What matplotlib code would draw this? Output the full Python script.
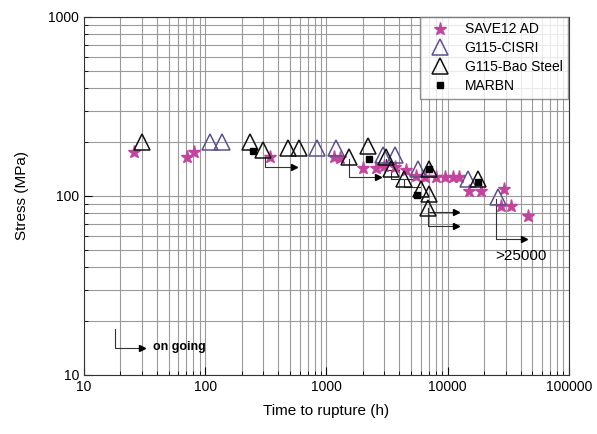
import numpy as np
import matplotlib.pyplot as plt

plt.rcParams['font.family'] = ['Liberation Sans', 'DejaVu Sans']

# SAVE12 AD (stars)
save_t = [26, 71, 81, 340, 1150, 1300, 2000, 2540, 3000, 3700, 4500, 5500, 6500,
          8000, 9500, 11000, 12500, 14900, 18700, 29000, 27400, 33000, 46000]
save_s = [177, 166, 175, 164, 165, 163, 144, 144, 147, 145, 140, 130, 128,
          128, 128, 127, 127, 106, 106, 109, 88, 88, 77]

# G115-CISRI (purple open triangles)
cisri_t = [110, 138, 843, 1190, 2900, 3700, 5650, 14600, 25900]
cisri_s = [200, 200, 186, 186, 170, 170, 142, 124, 99]

# G115-Bao Steel (black open triangles)
bao_t = [30, 235, 301, 485, 588, 1520, 2180, 3080, 3380, 4330, 5980, 6970, 6840, 17700, 7000]
bao_s = [201, 200, 181, 186, 186, 164, 189, 164, 142, 124, 109, 102, 86, 124, 142]

# MARBN (black squares)
marbn_t = [250, 2260, 7000, 5600, 17700]
marbn_s = [179, 160, 141, 101, 120]

# ongoing tests: start time, stress at marker, stress at arrow, arrow end time
arr_t0 = [310, 1520, 6840, 6840, 24900]
arr_s0 = [170, 160, 86, 86, 96]
arr_s1 = [145, 127, 81, 67.6, 57.3]
arr_t1 = [540, 2640, 11600, 11600, 42500]

# plain step lines in the crowded cluster
step_t0 = [3080, 3380, 4330]
step_s0 = [160, 140, 122]
step_s1 = [140, 124, 112]
step_t1 = [4000, 5200, 5900]

fig = plt.figure(figsize=(5.97, 4.34), dpi=100)
ax = fig.add_axes([0.1407, 0.136, 0.8123, 0.825])

ax.set_xscale('log')
ax.set_yscale('log')
ax.set_xlim(10, 100000)
ax.set_ylim(10, 1000)

ax.grid(True, which='both', color='#9a9a9a', linewidth=0.8)
ax.set_axisbelow(True)

for i in range(len(arr_t0)):
    ax.plot([arr_t0[i], arr_t0[i], arr_t1[i]], [arr_s0[i], arr_s1[i], arr_s1[i]],
            color='#333333', lw=0.8, zorder=2)
    ax.plot(arr_t1[i], arr_s1[i], marker='>', ms=4, color='black', zorder=2)
for i in range(len(step_t0)):
    ax.plot([step_t0[i], step_t0[i], step_t1[i]], [step_s0[i], step_s1[i], step_s1[i]],
            color='#333333', lw=0.8, zorder=2)

ax.plot(save_t, save_s, ls='none', marker='*', ms=9.5, color='#c2449c',
        markeredgecolor='#c2449c', label='SAVE12 AD', zorder=3)
ax.plot(cisri_t, cisri_s, ls='none', marker='^', ms=11, markerfacecolor='none',
        markeredgecolor='#5d4f8e', markeredgewidth=1.1, label='G115-CISRI', zorder=4)
ax.plot(bao_t, bao_s, ls='none', marker='^', ms=11, markerfacecolor='none',
        markeredgecolor='#111111', markeredgewidth=1.1, label='G115-Bao Steel', zorder=4)
ax.plot(marbn_t, marbn_s, ls='none', marker='s', ms=4.5, color='black',
        label='MARBN', zorder=5)

# "on going" key
ax.plot([18, 18, 30], [18.0, 14.1, 14.1], color='#333333', lw=0.8)
ax.plot(30, 14.1, marker='>', ms=4, color='black')
ax.text(37, 14.3, 'on going', fontsize=9, fontweight='bold', va='center')

ax.text(40000, 46, '>25000', fontsize=11, ha='center', va='center')

ax.set_xlabel('Time to rupture (h)', fontsize=11, labelpad=7)
ax.set_ylabel('Stress (MPa)', fontsize=11, labelpad=14)
ax.set_xticks([10, 100, 1000, 10000, 100000])
ax.set_xticklabels(['10', '100', '1000', '10000', '100000'])
ax.set_yticks([10, 100, 1000])
ax.set_yticklabels(['10', '100', '1000'])
ax.tick_params(which='both', direction='in', labelsize=10)
ax.tick_params(which='major', length=6)
ax.tick_params(which='minor', length=3)
for sp in ax.spines.values():
    sp.set_color('#333333')

leg = ax.legend(loc='upper right', fontsize=10, frameon=True, fancybox=False,
                borderaxespad=0.0, handletextpad=0.8, labelspacing=0.35,
                bbox_to_anchor=(0.998, 1.0))
leg.get_frame().set_edgecolor('#777777')

fig.savefig('out.png', dpi=100)
